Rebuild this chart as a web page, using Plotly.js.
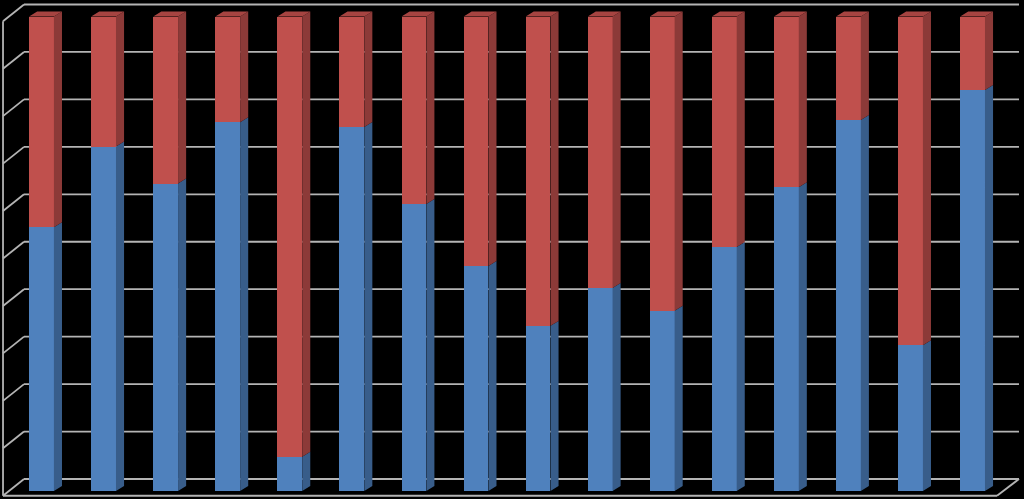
<!DOCTYPE html>
<html>
<head>
<meta charset="utf-8">
<script src="https://cdn.plot.ly/plotly-3.0.1.min.js"></script>
<style>html,body{margin:0;padding:0;background:#000;}#chart{width:1024px;height:499px;}</style>
</head>
<body>
<div id="chart"></div>
<script>
// ---- data ----
const categories = ['1','2','3','4','5','6','7','8','9','10','11','12','13','14','15','16'];
const blueValues = [55.6, 72.6, 64.8, 77.7, 7.2, 76.7, 60.5, 47.4, 34.8, 42.8, 38.0, 51.4, 64.0, 78.2, 30.7, 84.5];
const redValues  = [44.4, 27.4, 35.2, 22.3, 92.8, 23.3, 39.5, 52.6, 65.2, 57.2, 62.0, 48.6, 36.0, 21.8, 69.3, 15.5];
const gridValues = [0, 10, 20, 30, 40, 50, 60, 70, 80, 90, 100];

// ---- style ----
const blueFront = '#4f81bd', blueSide = '#385d8a';
const redFront = '#c0504d', redSide = '#8c3a38', redTop = '#a64441';
const gridColor = '#b4b4b4';
const barW = 0.4;      // bar front width (category units)
const depthX = 0.13;   // bar depth offset in x (units)
const depthY = 1.05;   // bar depth offset in y (units)
const wallBackDy = 2.53, wallFrontDy = -1.0;
const wallBackX0 = -0.282, wallBackX1 = 15.748;
const wallFrontX0 = -0.62, wallFrontX1 = 15.394;

const xs = categories.map((c, i) => i);

// side & top faces computed from data
function sidePolys(bottoms, tops) {
  const px = [], py = [];
  xs.forEach((x, i) => {
    const xr = x + barW / 2;
    const y0 = bottoms[i], y1 = tops[i];
    px.push(xr, xr + depthX, xr + depthX, xr, xr, null);
    py.push(y0, y0 + depthY, y1 + depthY, y1, y0, null);
  });
  return {x: px, y: py};
}
const blueTops = blueValues;
const redTops = blueValues.map((b, i) => b + redValues[i]);
const zeros = xs.map(() => 0);
const blueSideP = sidePolys(zeros, blueTops);
const redSideP = sidePolys(blueTops, redTops);
const topX = [], topY = [];
xs.forEach((x, i) => {
  const xl = x - barW / 2, xr = x + barW / 2, t = redTops[i];
  topX.push(xl, xr, xr + depthX, xl + depthX, xl, null);
  topY.push(t, t, t + depthY, t + depthY, t, null);
});

const traces = [
  {type: 'bar', x: xs, y: blueValues, width: barW, marker: {color: blueFront, line: {width: 0}}, hoverinfo: 'skip'},
  {type: 'bar', x: xs, y: redValues, width: barW, marker: {color: redFront, line: {width: 0}}, hoverinfo: 'skip'},
  {type: 'scatter', mode: 'lines', x: blueSideP.x, y: blueSideP.y, fill: 'toself', fillcolor: blueSide, line: {width: 0}, hoverinfo: 'skip', connectgaps: false},
  {type: 'scatter', mode: 'lines', x: redSideP.x, y: redSideP.y, fill: 'toself', fillcolor: redSide, line: {width: 0}, hoverinfo: 'skip', connectgaps: false},
  {type: 'scatter', mode: 'lines', x: topX, y: topY, fill: 'toself', fillcolor: redTop, line: {width: 0}, hoverinfo: 'skip', connectgaps: false}
];

// walls & gridlines as shapes (below traces)
const shapes = [];
const ln = (x0, y0, x1, y1) => ({type: 'line', xref: 'x', yref: 'y', x0, y0, x1, y1, layer: 'below', line: {color: gridColor, width: 1.8}});
gridValues.forEach(v => {
  shapes.push(ln(wallBackX0, v + wallBackDy, wallBackX1, v + wallBackDy));
  shapes.push(ln(wallFrontX0, v + wallFrontDy, wallBackX0, v + wallBackDy));
});
shapes.push(ln(wallFrontX0, gridValues[0] + wallFrontDy, wallFrontX0, gridValues[gridValues.length - 1] + wallFrontDy));
shapes.push(ln(wallFrontX0, gridValues[0] + wallFrontDy, wallFrontX1, gridValues[0] + wallFrontDy));
shapes.push(ln(wallFrontX1, gridValues[0] + wallFrontDy, wallBackX1, gridValues[0] + wallBackDy));

const layout = {
  width: 1024, height: 499, autosize: false,
  margin: {l: 0, r: 0, t: 0, b: 0, pad: 0},
  paper_bgcolor: '#000', plot_bgcolor: '#000',
  barmode: 'stack', showlegend: false,
  xaxis: {range: [-0.6687, 15.8287], visible: false, showgrid: false, zeroline: false, fixedrange: true},
  yaxis: {range: [-1.686, 103.477], visible: false, showgrid: false, zeroline: false, fixedrange: true},
  shapes: shapes
};
Plotly.newPlot('chart', traces, layout, {staticPlot: true, displayModeBar: false});
</script>
</body>
</html>
